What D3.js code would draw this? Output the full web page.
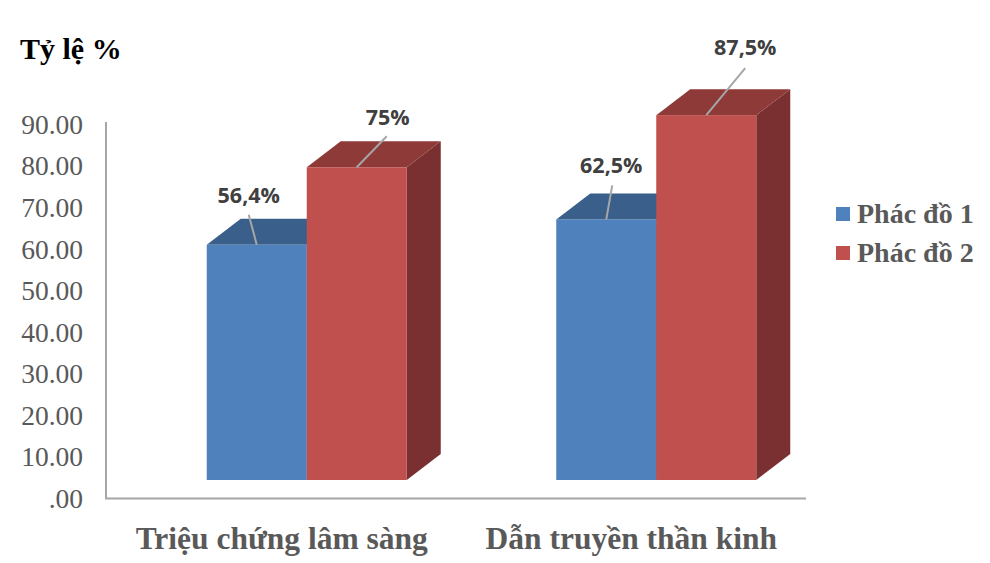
<!DOCTYPE html>
<html>
<head>
<meta charset="utf-8">
<script src="https://cdn.jsdelivr.net/npm/d3@7"></script>
<style>
  html, body { margin: 0; padding: 0; background: #fff; }
  svg { display: block; }
</style>
</head>
<body>
<svg id="chart" width="990" height="563"></svg>
<script>
// ---- data ----
const categories = ["Triệu chứng lâm sàng", "Dẫn truyền thần kinh"];
const seriesNames = ["Phác đồ 1", "Phác đồ 2"];
const phacDo1 = [56.4, 62.5];
const phacDo2 = [75, 87.5];
const labels1 = ["56,4%", "62,5%"];
const labels2 = ["75%", "87,5%"];
const tickValues = [0, 10, 20, 30, 40, 50, 60, 70, 80, 90];
const axisTitle = "Tỷ lệ %";

// ---- layout / style ----
const W = 990, H = 563;
const colors = {
  front: ["#4F81BD", "#C0504D"],
  top:   ["#3A5F8B", "#8E3A38"],
  side:  ["#2F4D71", "#7A3030"]
};
const depth = { dx: 34, dy: -26 };
// manual label nudges (dx from bar centre, dy above the front top) – layout only
const labelNudge = [
  [{ dx: -8, dy: -42, lx: -8, ly: -30 }, { dx: 31, dy: -42, lx: 30, ly: -31 }],
  [{ dx: 5, dy: -46, lx: 6, ly: -34 }, { dx: 39, dy: -60, lx: 39, ly: -47 }]
];

const svg = d3.select("#chart");

const yAxisScale = d3.scaleLinear().domain([0, 90]).range([498, 124]);
const yFront = d3.scaleLinear().domain([0, 90]).range([480, 480 - 90 * 4.17]);
const x0 = d3.scaleBand().domain(categories).range([132, 831]).paddingInner(0);
const x1 = d3.scaleBand().domain(seriesNames).range([0, 200]).paddingInner(0);
const groupStart = c => x0(c) + (x0.bandwidth() - 200) / 2;

// axis lines
svg.append("line").attr("x1", 106).attr("x2", 106).attr("y1", 122).attr("y2", 499)
  .attr("stroke", "#A6A6A6").attr("stroke-width", 2);
svg.append("line").attr("x1", 105).attr("x2", 806).attr("y1", 498.5).attr("y2", 498.5)
  .attr("stroke", "#A6A6A6").attr("stroke-width", 2);

// y axis labels
const yAxis = d3.axisLeft(yAxisScale)
  .tickValues(tickValues)
  .tickSize(0)
  .tickPadding(23)
  .tickFormat(d => d === 0 ? ".00" : d3.format(".2f")(d));
const gy = svg.append("g").attr("transform", "translate(106,0)").call(yAxis);
gy.select(".domain").remove();
gy.selectAll("text")
  .attr("font-family", "'Liberation Serif', 'Times New Roman', serif")
  .attr("font-size", 27.5)
  .attr("fill", "#595959")
  .attr("dy", "0.34em");

// bars
const rows = [];
categories.forEach((c, i) => {
  rows.push({ cat: c, i, s: 0, v: phacDo1[i], label: labels1[i] });
  rows.push({ cat: c, i, s: 1, v: phacDo2[i], label: labels2[i] });
});

const bars = svg.append("g");
rows.forEach(d => {
  const xl = groupStart(d.cat) + x1(seriesNames[d.s]);
  const xr = xl + x1.bandwidth();
  const yt = yFront(d.v);
  const yb = yFront(0);
  const g = bars.append("g");
  g.append("polygon")
    .attr("points", [[xr, yt], [xr + depth.dx, yt + depth.dy], [xr + depth.dx, yb + depth.dy], [xr, yb]].join(" "))
    .attr("fill", colors.side[d.s]);
  g.append("polygon")
    .attr("points", [[xl, yt], [xl + depth.dx, yt + depth.dy], [xr + depth.dx, yt + depth.dy], [xr, yt]].join(" "))
    .attr("fill", colors.top[d.s]);
  g.append("rect")
    .attr("x", xl).attr("y", yt).attr("width", xr - xl).attr("height", yb - yt)
    .attr("fill", colors.front[d.s]);
});

// data labels + leader lines
const lab = svg.append("g");
rows.forEach(d => {
  const xl = groupStart(d.cat) + x1(seriesNames[d.s]);
  const cx = xl + x1.bandwidth() / 2;
  const yt = yFront(d.v);
  const n = labelNudge[d.i][d.s];
  lab.append("line")
    .attr("x1", cx).attr("y1", yt)
    .attr("x2", cx + n.lx).attr("y2", yt + n.ly)
    .attr("stroke", "#A6A6A6").attr("stroke-width", 2);
  lab.append("text")
    .attr("x", cx + n.dx).attr("y", yt + n.dy)
    .attr("text-anchor", "middle")
    .attr("font-family", "'Open Sans', sans-serif")
    .attr("font-weight", "bold")
    .attr("font-size", 21.5)
    .attr("fill", "#404040")
    .text(d.label);
});

// category labels
svg.append("g").selectAll("text").data(categories).join("text")
  .attr("x", c => x0(c) + x0.bandwidth() / 2 - 25)
  .attr("y", 549)
  .attr("text-anchor", "middle")
  .attr("font-family", "'Liberation Serif', 'Times New Roman', serif")
  .attr("font-weight", "bold")
  .attr("font-size", 31.5)
  .attr("fill", "#595959")
  .text(c => c);

// axis title
svg.append("text")
  .attr("x", 20).attr("y", 59)
  .attr("font-family", "'Liberation Serif', 'Times New Roman', serif")
  .attr("font-weight", "bold")
  .attr("font-size", 30)
  .attr("fill", "#000")
  .text(axisTitle);

// legend
const legend = svg.append("g");
seriesNames.forEach((s, k) => {
  const y = 207 + k * 39;
  legend.append("rect").attr("x", 836).attr("y", y).attr("width", 14).attr("height", 14)
    .attr("fill", colors.front[k]);
  legend.append("text").attr("x", 857).attr("y", y + 16)
    .attr("font-family", "'Liberation Serif', 'Times New Roman', serif")
    .attr("font-weight", "bold")
    .attr("font-size", 28)
    .attr("fill", "#595959")
    .text(s);
});
</script>
</body>
</html>
